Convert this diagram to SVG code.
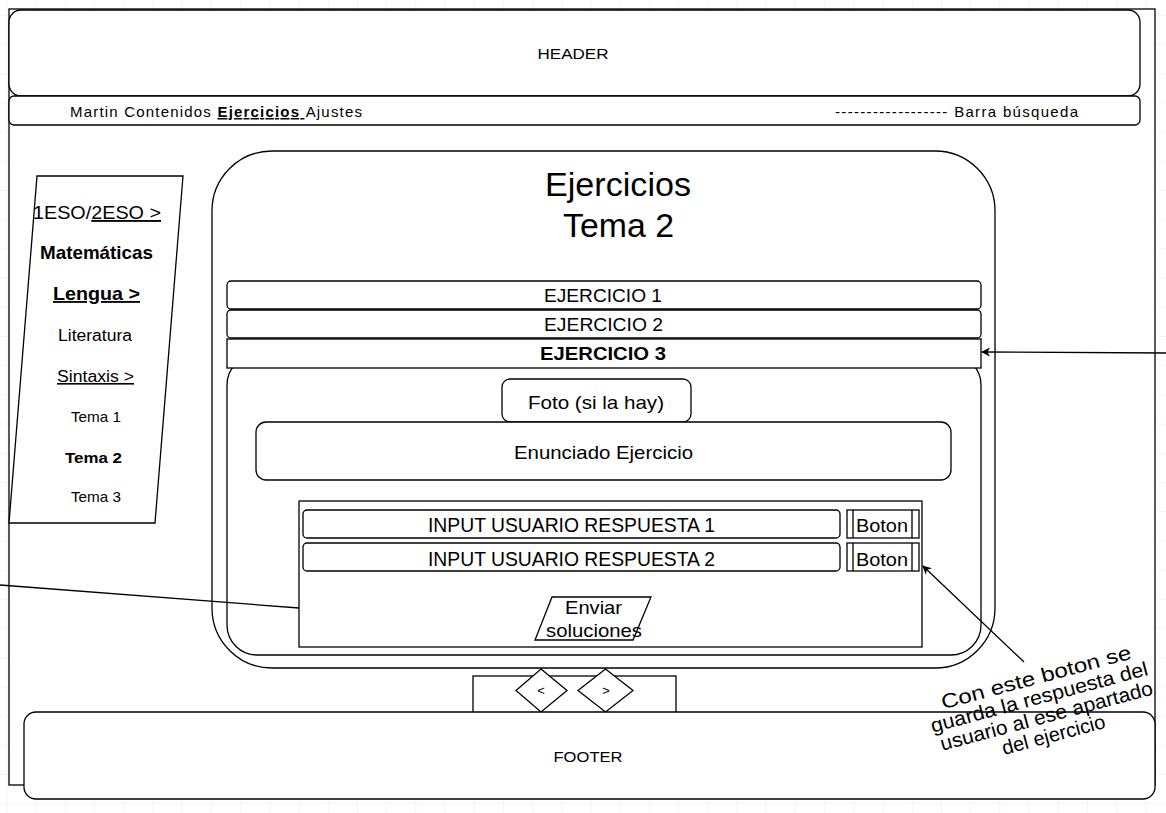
<svg xmlns="http://www.w3.org/2000/svg" width="1166" height="813" viewBox="0 0 1166 813">
<style>
.s{fill:#fff;stroke:#000;stroke-width:1.3}
.t{font-family:"Liberation Sans",Arial,Helvetica,sans-serif;fill:#000;text-anchor:middle}
.c{fill:none;stroke:#000;stroke-width:1.3}
</style>
<defs>
<pattern id="grid" width="29.2" height="29.2" patternUnits="userSpaceOnUse" x="6.6" y="14.8">
<path d="M0 0H29.2M0 0V29.2" fill="none" stroke="#ececec" stroke-width="1"/>
</pattern>
<marker id="ah" viewBox="0 0 10 10" refX="9" refY="5" markerWidth="9" markerHeight="9" orient="auto-start-reverse" markerUnits="userSpaceOnUse">
<path d="M0 0L10 5L0 10L3 5Z" fill="#000"/>
</marker>
</defs>
<rect width="1166" height="813" fill="#fff"/>
<rect width="1166" height="813" fill="url(#grid)"/>
<g id="page"><rect class="s" x="9" y="9" width="1146" height="776"/></g>
<g id="header"><rect class="s" x="9" y="10" width="1131" height="86" rx="12"/><text class="t" x="573" y="59" font-size="15" textLength="71" lengthAdjust="spacingAndGlyphs">HEADER</text></g>
<g id="nav"><rect class="s" x="9" y="96" width="1131" height="29" rx="5"/>
<text class="t" x="70" y="117" font-size="15" style="text-anchor:start" textLength="292" lengthAdjust="spacing">Martin Contenidos <tspan font-weight="bold" text-decoration="underline">Ejercicios </tspan>Ajustes</text>
<text class="t" x="835" y="117" font-size="15" style="text-anchor:start" textLength="243" lengthAdjust="spacing">------------------ Barra búsqueda</text></g>
<g id="sidebar"><polygon class="s" points="37,176 183,176 155,523 9,523"/>
<text class="t" x="97" y="219" font-size="18.5" textLength="128" lengthAdjust="spacingAndGlyphs">1ESO/<tspan text-decoration="underline">2ESO &gt;</tspan></text>
<text class="t" x="96.5" y="259" font-size="18.5" style="font-weight:600" textLength="113" lengthAdjust="spacingAndGlyphs">Matemáticas</text>
<text class="t" x="96.5" y="300" font-size="18.5" text-decoration="underline" style="font-weight:600" textLength="87" lengthAdjust="spacingAndGlyphs">Lengua &gt;</text>
<text class="t" x="95" y="341" font-size="16" textLength="74" lengthAdjust="spacingAndGlyphs">Literatura</text>
<text class="t" x="95.5" y="382" font-size="16" text-decoration="underline" textLength="77" lengthAdjust="spacingAndGlyphs">Sintaxis &gt;</text>
<text class="t" x="96" y="422" font-size="15" textLength="50" lengthAdjust="spacingAndGlyphs">Tema 1</text>
<text class="t" x="93.5" y="463" font-size="15" font-weight="bold" textLength="57" lengthAdjust="spacingAndGlyphs">Tema 2</text>
<text class="t" x="96" y="502" font-size="15" textLength="50" lengthAdjust="spacingAndGlyphs">Tema 3</text></g>
<g id="main"><rect class="s" x="212" y="151" width="783" height="517" rx="60"/>
<text class="t" x="618" y="196" font-size="33" textLength="146" lengthAdjust="spacingAndGlyphs">Ejercicios</text>
<text class="t" x="618.5" y="237" font-size="33" textLength="111" lengthAdjust="spacingAndGlyphs">Tema 2</text></g>
<g id="detail"><rect class="s" x="227" y="355" width="754" height="300" rx="30"/></g>
<g id="ej1"><rect class="s" x="227" y="281" width="754" height="28" rx="4"/><text class="t" x="603" y="302" font-size="18.5" textLength="118" lengthAdjust="spacingAndGlyphs">EJERCICIO 1</text></g>
<g id="ej2"><rect class="s" x="227" y="310" width="754" height="28" rx="4"/><text class="t" x="603.5" y="331" font-size="18.5" textLength="119" lengthAdjust="spacingAndGlyphs">EJERCICIO 2</text></g>
<g id="ej3"><rect class="s" x="227" y="339" width="754" height="29"/><text class="t" x="603" y="360" font-size="18.5" font-weight="bold" textLength="126" lengthAdjust="spacingAndGlyphs">EJERCICIO 3</text></g>
<g id="foto"><rect class="s" x="502" y="379" width="189" height="43" rx="8"/><text class="t" x="596" y="409" font-size="18.5" textLength="136" lengthAdjust="spacingAndGlyphs">Foto (si la hay)</text></g>
<g id="enunciado"><rect class="s" x="256" y="422" width="695" height="58" rx="10"/><text class="t" x="603.5" y="459" font-size="18.5" textLength="179" lengthAdjust="spacingAndGlyphs">Enunciado Ejercicio</text></g>
<g id="inputs"><rect class="s" x="299" y="501" width="623" height="146"/></g>
<g id="in1"><rect class="s" x="303" y="510" width="537" height="28" rx="4"/><text class="t" x="571.5" y="532" font-size="19.5" textLength="287" lengthAdjust="spacingAndGlyphs">INPUT USUARIO RESPUESTA 1</text></g>
<g id="in2"><rect class="s" x="303" y="543" width="537" height="28" rx="4"/><text class="t" x="571.5" y="566" font-size="19.5" textLength="287" lengthAdjust="spacingAndGlyphs">INPUT USUARIO RESPUESTA 2</text></g>
<g id="b1"><rect class="s" x="847" y="510" width="72" height="28"/><path class="c" d="M853 510V538M912 510V538"/><text class="t" x="882" y="532" font-size="18.5" textLength="52" lengthAdjust="spacingAndGlyphs">Boton</text></g>
<g id="b2"><rect class="s" x="847" y="543" width="72" height="28"/><path class="c" d="M853 543V571M912 543V571"/><text class="t" x="882" y="566" font-size="18.5" textLength="52" lengthAdjust="spacingAndGlyphs">Boton</text></g>
<g id="enviar"><polygon class="s" points="552,597 651,597 633,640 535,640"/><text class="t" x="593.5" y="614" font-size="18.5" textLength="57" lengthAdjust="spacingAndGlyphs">Enviar</text><text class="t" x="594" y="637" font-size="18.5" textLength="96" lengthAdjust="spacingAndGlyphs">soluciones</text></g>
<g id="pager"><rect class="s" x="473" y="676" width="203" height="40"/></g>
<g id="prev"><polygon class="s" points="541,669 567,690.5 541,712 516,690.5"/><text class="t" x="541" y="695" font-size="13">&lt;</text></g>
<g id="next"><polygon class="s" points="605.5,669 633,690.5 605.5,712 578,690.5"/><text class="t" x="606" y="695" font-size="13">&gt;</text></g>
<g id="footer"><rect class="s" x="24" y="712" width="1131" height="87" rx="12"/><text class="t" x="588" y="762" font-size="15" textLength="69" lengthAdjust="spacingAndGlyphs">FOOTER</text></g>
<g id="connectors">
<path class="c" d="M1166 353L982 352" marker-end="url(#ah)"/>
<path class="c" d="M1024 662L923 566" marker-end="url(#ah)"/>
<path class="c" d="M0 585L299 608"/>
</g>
<g id="note" transform="translate(1044,707) rotate(-15)">
<text class="t" x="0" y="-24" font-size="20" textLength="196" lengthAdjust="spacingAndGlyphs">Con este boton se</text>
<text class="t" x="-2" y="-4" font-size="20" textLength="224" lengthAdjust="spacingAndGlyphs">guarda la respuesta del</text>
<text class="t" x="0" y="16" font-size="20" textLength="219" lengthAdjust="spacingAndGlyphs">usuario al ese apartado</text>
<text class="t" x="2" y="36" font-size="20" textLength="106" lengthAdjust="spacingAndGlyphs">del ejercicio</text>
</g>
</svg>
